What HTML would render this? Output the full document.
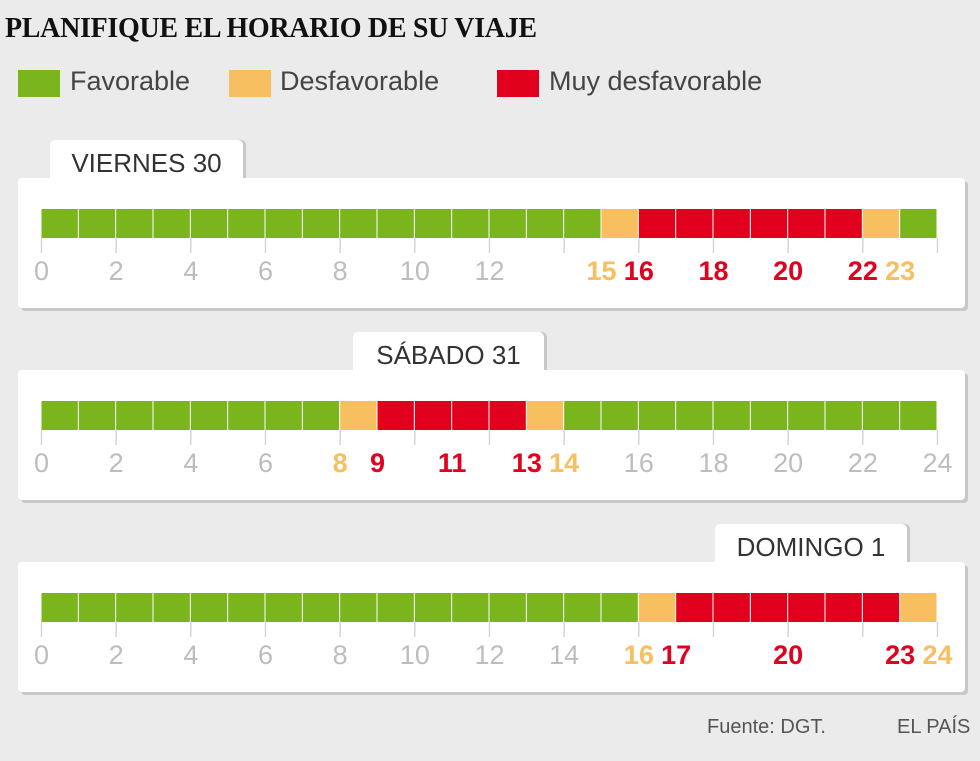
<!DOCTYPE html>
<html><head><meta charset="utf-8"><style>
body{margin:0;width:980px;height:761px;background:#ebebeb;font-family:"Liberation Sans",sans-serif;position:relative;overflow:hidden}
.title{position:absolute;left:5px;top:13px;font:bold 28px "Liberation Serif",serif;color:#111;letter-spacing:-0.3px}
.leg{position:absolute;top:70px;height:27px;width:42px}
.legt{position:absolute;top:66px;font-size:27px;color:#444}
.card{position:absolute;left:18px;width:947px;height:130px;background:#fff;border-radius:4px;box-shadow:3px 3px 0 #c8c8c8}
.tab{position:absolute;height:42px;background:#fff;border-radius:5px 5px 0 0;box-shadow:3px 0 0 #c8c8c8;font-size:26px;color:#333;text-align:center;line-height:46px}
.src{position:absolute;top:716px;font-size:20px;color:#555}
svg{position:absolute;left:0;top:0}
</style></head><body>
<div class="title">PLANIFIQUE EL HORARIO DE SU VIAJE</div>
<div class="leg" style="left:18px;background:#7ab51d"></div>
<div class="legt" style="left:70px">Favorable</div>
<div class="leg" style="left:229px;background:#f7bf5f"></div>
<div class="legt" style="left:280px">Desfavorable</div>
<div class="leg" style="left:497px;background:#e1001d"></div>
<div class="legt" style="left:549px">Muy desfavorable</div>

<div class="tab" style="left:50px;top:140px;width:193px">VIERNES 30</div>
<div class="card" style="top:178px"></div>
<div class="tab" style="left:353px;top:332px;width:191px">SÁBADO 31</div>
<div class="card" style="top:370px"></div>
<div class="tab" style="left:715px;top:524px;width:192px">DOMINGO 1</div>
<div class="card" style="top:562px"></div>

<div class="src" style="left:707px">Fuente: DGT.</div>
<div class="src" style="left:897px">EL PAÍS</div>

<svg id="chart" width="980" height="761"></svg>
<script>
// hourly levels: 0=favorable,1=desfavorable,2=muy desfavorable
const viernesLevels=[0,0,0,0,0,0,0,0,0,0,0,0,0,0,0,1,2,2,2,2,2,2,1,0];
const sabadoLevels=[0,0,0,0,0,0,0,0,1,2,2,2,2,1,0,0,0,0,0,0,0,0,0,0];
const domingoLevels=[0,0,0,0,0,0,0,0,0,0,0,0,0,0,0,0,1,2,2,2,2,2,2,1];
const viernesLabels=[0,2,4,6,8,10,12,15,16,18,20,22,23];
const viernesLabelLevels=[-1,-1,-1,-1,-1,-1,-1,1,2,2,2,2,1];
const sabadoLabels=[0,2,4,6,8,9,11,13,14,16,18,20,22,24];
const sabadoLabelLevels=[-1,-1,-1,-1,1,2,2,2,1,-1,-1,-1,-1,-1];
const domingoLabels=[0,2,4,6,8,10,12,14,16,17,20,23,24];
const domingoLabelLevels=[-1,-1,-1,-1,-1,-1,-1,-1,1,2,2,2,1];
const days=[
 {name:'viernes',levels:viernesLevels,labels:viernesLabels,lv:viernesLabelLevels,y:209},
 {name:'sabado',levels:sabadoLevels,labels:sabadoLabels,lv:sabadoLabelLevels,y:401},
 {name:'domingo',levels:domingoLevels,labels:domingoLabels,lv:domingoLabelLevels,y:593}];
const colors=['#7ab51d','#f7bf5f','#e1001d'];
const x0=41.5,x1=937.5,barH=29;
const xs=h=>x0+(x1-x0)*h/24;
const svg=document.getElementById('chart');const NS='http://www.w3.org/2000/svg';
function mk(t,a){const e=document.createElementNS(NS,t);for(const k in a)e.setAttribute(k,a[k]);svg.appendChild(e);return e;}
days.forEach(d=>{
 for(let h=0;h<=24;h+=2){const t=mk('line',{x1:xs(h),x2:xs(h),y1:d.y+barH,y2:d.y+barH+15,stroke:'#d0d0d0','stroke-width':1.3});
  
  }
 d.levels.forEach((l,h)=>{const r=mk('rect',{x:xs(h),y:d.y,width:xs(h+1)-xs(h)-1,height:barH,fill:colors[l]});
  
  });
 d.labels.forEach((h,i)=>{const l=d.lv[i];const t=mk('text',{x:xs(h),y:d.y+71,'text-anchor':'middle','font-size':27,'font-family':'Liberation Sans, sans-serif',fill:l<0?'#c0bcbc':colors[l],'font-weight':l<0?'normal':'bold'});
  t.textContent=h;
  
  });
});
</script>
</body></html>
